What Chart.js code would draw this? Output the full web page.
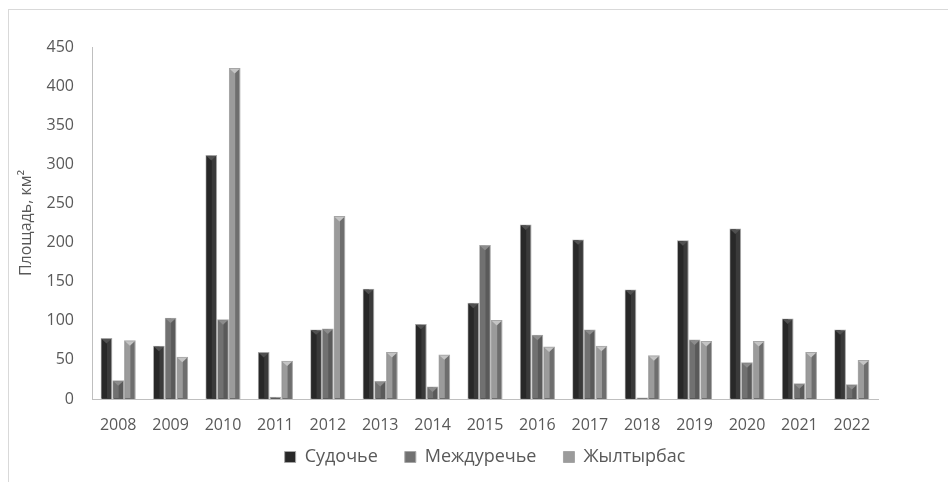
<!DOCTYPE html>
<html>
<head>
<meta charset="utf-8">
<script src="https://cdn.jsdelivr.net/npm/chart.js@4/dist/chart.umd.min.js"></script>
<style>
  html, body { margin: 0; padding: 0; background: #ffffff; }
  #wrap { position: relative; width: 948px; height: 482px; overflow: hidden; }
  #frame { position: absolute; left: 8px; top: 9px; right: -2px; bottom: -2px;
           border-left: 1px solid #d9d9d9; border-top: 1px solid #d9d9d9; }
  #c { position: absolute; left: 0; top: 0; }
</style>
</head>
<body>
<div id="wrap">
  <div id="frame"></div>
  <canvas id="c" width="948" height="482"></canvas>
</div>
<script>
// Years on the category axis
const years = ['2008', '2009', '2010', '2011', '2012', '2013', '2014', '2015',
               '2016', '2017', '2018', '2019', '2020', '2021', '2022'];

// Area per site, km²
const sudochye     = [78, 68, 312, 60, 89, 141, 96, 123, 223, 204, 140, 203, 218, 103, 89];
const mezhdurechye = [24, 104, 102, 3, 90, 23, 16, 197, 82, 89, 2, 76, 47, 20, 19];
const zhyltyrbas   = [75, 54, 423, 49, 234, 60, 57, 101, 67, 68, 56, 74, 74, 60, 50];

const seriesNames = ['Судочье', 'Междуречье', 'Жылтырбас'];

// Value axis
const yMin = 0;
const yMax = 450;
const yStep = 50;
const yTitle = 'Площадь, км²';

const FONT = "'Open Sans', 'DejaVu Sans', sans-serif";
const TEXT = '#595959';
const AXIS = '#bfbfbf';

// Draws the bevelled look on top of each bar: a shaded left facet and a
// chevron-shaped cap, using the positions the bar elements already have.
const bevelPlugin = {
  id: 'bevel',
  afterDatasetDraw(chart, args) {
    const meta = args.meta;
    const ds = chart.data.datasets[args.index];
    const ctx = chart.ctx;
    const area = chart.chartArea;
    ctx.save();
    ctx.beginPath();
    ctx.rect(area.left, area.top, area.right - area.left, area.bottom - area.top);
    ctx.clip();
    meta.data.forEach(bar => {
      const p = bar.getProps(['x', 'y', 'base', 'width'], true);
      const l = p.x - p.width / 2;
      const r = p.x + p.width / 2;
      const h = p.base - p.y;
      if (h <= 2) return;
      ctx.fillStyle = ds.facetColor;
      ctx.fillRect(l + 1, p.y + 1, (p.width - 2) * 0.55, h - 2);
      const th = Math.min(p.width * 0.38, h - 2);
      ctx.fillStyle = ds.capColor;
      ctx.beginPath();
      ctx.moveTo(l + 1, p.y + 1);
      ctx.lineTo(r - 1, p.y + 1);
      ctx.lineTo(p.x, p.y + 1 + th);
      ctx.closePath();
      ctx.fill();
    });
    ctx.restore();
  }
};

// Centres the legend row under the plot area and lifts it a little
// closer to the category labels.
const legendPlace = {
  id: 'legendPlace',
  afterLayout(chart) {
    const lg = chart.legend;
    if (!lg) return;
    const w = lg.right - lg.left;
    lg.left = chart.chartArea.left + (chart.chartArea.right - chart.chartArea.left - w) / 2;
    lg.right = lg.left + w;
    lg.top -= 14;
    lg.bottom -= 14;
  }
};

const makeSet = (label, values, face, facet, cap) => ({
  label: label,
  data: values,
  backgroundColor: face,
  facetColor: facet,
  capColor: cap,
  borderColor: '#a6a6a6',
  borderWidth: 1,
  categoryPercentage: 0.67,
  barPercentage: 1.0
});

new Chart(document.getElementById('c'), {
  type: 'bar',
  data: {
    labels: years,
    datasets: [
      makeSet(seriesNames[0], sudochye,     '#3a3a3a', '#282828', '#505050'),
      makeSet(seriesNames[1], mezhdurechye, '#5a5a5a', '#717171', '#8c8c8c'),
      makeSet(seriesNames[2], zhyltyrbas,   '#6e6e6e', '#9b9b9b', '#c4c4c4')
    ]
  },
  options: {
    responsive: false,
    animation: false,
    devicePixelRatio: 1,
    layout: { padding: { left: 8, right: 70, top: 47, bottom: 0 } },
    plugins: {
      tooltip: { enabled: false },
      legend: {
        position: 'bottom',
        maxHeight: 47,
        labels: {
          boxWidth: 11,
          boxHeight: 11,
          padding: 27,
          color: TEXT,
          font: { family: FONT, size: 18 },
          generateLabels(chart) {
            return chart.data.datasets.map((ds, i) => ({
              text: ds.label,
              fillStyle: ds.facetColor,
              strokeStyle: '#a6a6a6',
              lineWidth: 1,
              fontColor: TEXT,
              hidden: false,
              datasetIndex: i
            }));
          }
        }
      }
    },
    scales: {
      x: {
        grid: { display: false, drawTicks: false },
        border: { display: true, color: AXIS, width: 1 },
        ticks: { color: TEXT, font: { family: FONT, size: 16 }, padding: 17, maxRotation: 0 },
        afterFit(scale) { scale.height = 36; }
      },
      y: {
        min: yMin,
        max: yMax,
        grid: { display: false, drawTicks: false },
        border: { display: true, color: AXIS, width: 1 },
        ticks: { stepSize: yStep, color: TEXT, font: { family: FONT, size: 16 }, padding: 18 },
        title: {
          display: true,
          text: yTitle,
          color: TEXT,
          font: { family: FONT, size: 16 },
          padding: { top: 9, bottom: 10 }
        },
        afterFit(scale) { scale.width = 84; }
      }
    }
  },
  plugins: [bevelPlugin, legendPlace]
});
</script>
</body>
</html>
